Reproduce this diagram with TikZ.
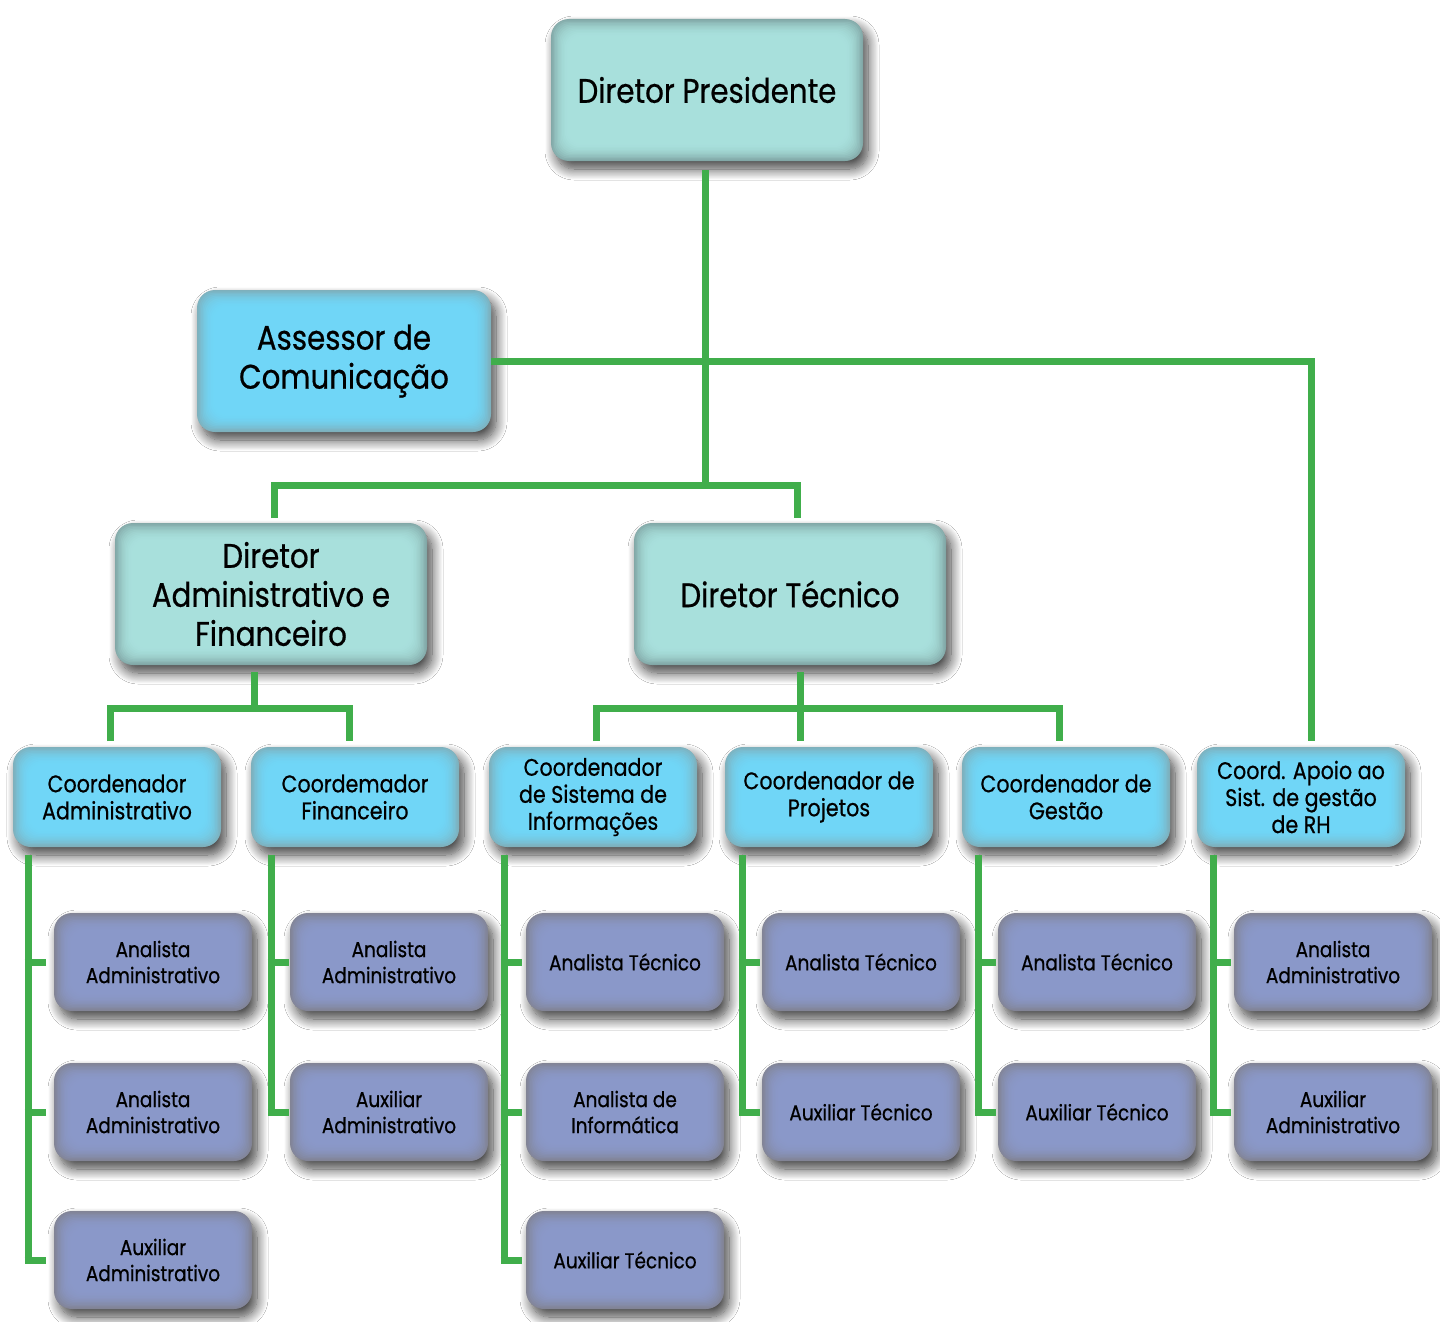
\documentclass[tikz,border=0pt]{standalone}
\usepackage{fontspec}
\setmainfont[FakeStretch=0.86,FakeBold=0.6]{Poppins}
\usetikzlibrary{shadows.blur}
\definecolor{conn}{HTML}{40AE4B}
\definecolor{tealC}{HTML}{A8E0DC}
\definecolor{tealE}{HTML}{82A8A7}
\definecolor{blueC}{HTML}{70D6F7}
\definecolor{blueE}{HTML}{7EB0BC}
\definecolor{purpC}{HTML}{8A98C9}
\definecolor{purpE}{HTML}{828495}
\tikzset{
  obox/.style n args={2}{rounded corners=18pt, fill=#2, align=center, inner sep=0pt,
    blur shadow={shadow xshift=5pt, shadow yshift=-8pt, shadow blur radius=11pt, shadow opacity=75, shadow blur steps=14},
    path picture={
      \foreach \i in {1,...,12}{
        \pgfmathtruncatemacro\mypct{100*(1-(1-\i/12)^2)}
        \fill[#1!\mypct!#2, rounded corners=14pt]
          ([shift={(\i*1.4pt,\i*1.4pt)}]path picture bounding box.south west) rectangle
          ([shift={(-\i*1.4pt,-\i*1.4pt)}]path picture bounding box.north east);
      }}},
  big/.style={obox={tealC}{tealE}, minimum width=312pt, minimum height=142pt, font=\fontsize{34}{39}\selectfont},
  bluebig/.style={obox={blueC}{blueE}, minimum width=294pt, minimum height=142pt, font=\fontsize{34}{39}\selectfont},
  coord/.style={obox={blueC}{blueE}, minimum width=208pt, minimum height=100pt, font=\fontsize{24}{27}\selectfont},
  leaf/.style={obox={purpC}{purpE}, minimum width=198pt, minimum height=98pt, font=\fontsize{21.5}{26}\selectfont},
  link/.style={draw=conn, line width=7pt, line cap=butt, line join=miter},
}
\begin{document}
\begin{tikzpicture}[x=1pt,y=-1pt]
\fill[white] (0,0) rectangle (1440,1322);
\useasboundingbox (0,0) rectangle (1440,1322);

% level 0-1
\node[big] (pres) at (707,90) {Diretor Presidente};
\node[bluebig] (asse) at (344,361) {Assessor de\\Comunicação};
\node[big] (daf) at (271,594) {Diretor\\Administrativo e\\Financeiro};
\node[big] (dt) at (790,594) {Diretor Técnico};

% coordinators
\node[coord] (cadm) at (117,797) {Coordenador\\Administrativo};
\node[coord] (cfin) at (355,797) {Coordemador\\Financeiro};
\node[coord] (csi) at (593,797) {Coordenador\\de Sistema de\\Informações};
\node[coord] (cproj) at (829,797) {Coordenador de\\Projetos};
\node[coord] (cges) at (1066,797) {Coordenador de\\Gestão};
\node[coord] (capo) at (1301,797) {Coord. Apoio ao\\Sist. de gestão\\de RH};

% leaves
\node[leaf] (a1) at (153,962) {Analista\\Administrativo};
\node[leaf] (a2) at (153,1112) {Analista\\Administrativo};
\node[leaf] (a3) at (153,1260) {Auxiliar\\Administrativo};
\node[leaf] (f1) at (389,962) {Analista\\Administrativo};
\node[leaf] (f2) at (389,1112) {Auxiliar\\Administrativo};
\node[leaf] (s1) at (625,962) {Analista Técnico};
\node[leaf] (s2) at (625,1112) {Analista de\\Informática};
\node[leaf] (s3) at (625,1260) {Auxiliar Técnico};
\node[leaf] (p1) at (861,962) {Analista Técnico};
\node[leaf] (p2) at (861,1112) {Auxiliar Técnico};
\node[leaf] (g1) at (1097,962) {Analista Técnico};
\node[leaf] (g2) at (1097,1112) {Auxiliar Técnico};
\node[leaf] (r1) at (1333,962) {Analista\\Administrativo};
\node[leaf] (r2) at (1333,1112) {Auxiliar\\Administrativo};

% connector coordinates
\coordinate (p0) at (705,170);
\coordinate (j1) at (705,485);
\coordinate (dafT) at (274,518);
\coordinate (dtT) at (797,518);
\coordinate (apoT) at (1311,741);
\coordinate (dafB) at (254,672);
\coordinate (dtB) at (800,672);

% main connectors
\draw[link] (p0) -- (j1);
\draw[link] (dafT) |- (j1) -| (dtT);
\draw[link] (asse.east) -| (apoT);
\draw[link] (dafB) -- (254,708);
\draw[link] (110,741) |- (349,708) -- (349,741);
\draw[link] (dtB) -- (800,741);
\draw[link] (596,741) |- (1059,708) -- (1059,741);

% child connectors
\foreach \cx/\top/\bot/\kids in {28/cadm/a3/{a1,a2,a3}, 271/cfin/f2/{f1,f2}, 504/csi/s3/{s1,s2,s3}, 742/cproj/p2/{p1,p2}, 978/cges/g2/{g1,g2}, 1213/capo/r2/{r1,r2}}{
  \coordinate (t\top) at (\cx,855);
  \draw[link] (t\top) -- (t\top |- \bot.west);
  \foreach \k in \kids { \draw[link] ([xshift=-3.5pt]t\top |- \k.west) -- ++(21,0); }
}
\end{tikzpicture}
\end{document}
